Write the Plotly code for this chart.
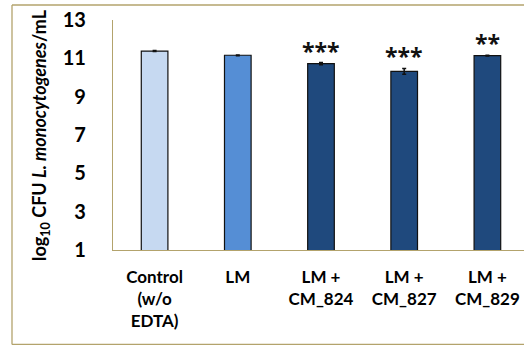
import plotly.graph_objects as go

# Treatment groups and measured counts (log10 CFU/mL)
categories = ["Control<br>(w/o<br>EDTA)", "LM", "LM +<br>CM_824", "LM +<br>CM_827", "LM +<br>CM_829"]
log_cfu = [11.38, 11.16, 10.72, 10.32, 11.14]
std_err = [0.03, 0.02, 0.06, 0.15, 0.02]
significance = ["", "", "***", "***", "**"]
bar_colors = ["#C6D9F1", "#558ED5", "#1F497D", "#1F497D", "#1F497D"]

y_ticks = [1, 3, 5, 7, 9, 11, 13]

W, H = 524, 345
L, R, T, B = 113, 0, 20, 95
font = "Lato, 'Open Sans', sans-serif"
tan = "#B3A36C"

x_idx = list(range(len(categories)))

fig = go.Figure()
fig.add_trace(go.Bar(
    x=x_idx,
    y=log_cfu,
    width=0.32,
    marker=dict(color=bar_colors, line=dict(color="#111111", width=1.2)),
    error_y=dict(type="data", array=std_err, visible=True,
                 color="#111111", thickness=1.5, width=2),
    showlegend=False,
))

# Significance stars above the error bars
for i, (v, e, s) in enumerate(zip(log_cfu, std_err, significance)):
    if s:
        fig.add_annotation(x=i, y=v + e, text=s, showarrow=False,
                           xanchor="center", yanchor="bottom", yshift=-6,
                           font=dict(family="'Open Sans', sans-serif", size=23,
                                     color="#111111", weight="bold"))

# y-axis title
fig.add_annotation(
    xref="paper", yref="paper", x=(40 - L) / (W - L - R), y=0.5,
    text="log<sub>10</sub> CFU <i>L. monocytogenes</i>/mL",
    textangle=-90, showarrow=False, xanchor="center", yanchor="middle",
    font=dict(family=font, size=18, color="#000000", weight="bold"),
)

# outer chart-area frame (left, top and bottom edges; right edge lies off-page)
pw, ph = W - L - R, H - T - B
fx0 = (12 - L) / pw
fy0 = (H - B - 344.5) / ph
fy1 = (H - B - 5) / ph
frame = dict(color=tan, width=1.3)
for x0, y0, x1, y1 in [(fx0, fy0, fx0, fy1), (fx0, fy1, 1.2, fy1), (fx0, fy0, 1.2, fy0)]:
    fig.add_shape(type="line", xref="paper", yref="paper",
                  x0=x0, y0=y0, x1=x1, y1=y1, line=frame, layer="below")

fig.update_layout(
    width=W, height=H,
    margin=dict(l=L, r=R, t=T, b=B, autoexpand=False),
    paper_bgcolor="white", plot_bgcolor="white",
    font=dict(family=font, color="#000000"),
)
fig.update_xaxes(
    range=[-0.5, 4.44],
    tickmode="array", tickvals=x_idx, ticktext=categories,
    tickfont=dict(family=font, size=17, color="#000000", weight="bold"),
    showline=True, linecolor=tan, linewidth=1.3,
    showgrid=False, zeroline=False, ticks="", ticklabelstandoff=11,
)
fig.update_yaxes(
    range=[1, 13],
    tickmode="array", tickvals=y_ticks, ticktext=[str(t) for t in y_ticks],
    tickfont=dict(family=font, size=20, color="#000000", weight="bold"),
    showline=True, linecolor=tan, linewidth=1.3,
    showgrid=False, zeroline=False, ticks="", ticklabelstandoff=22,
)

fig.write_html("out.html")
